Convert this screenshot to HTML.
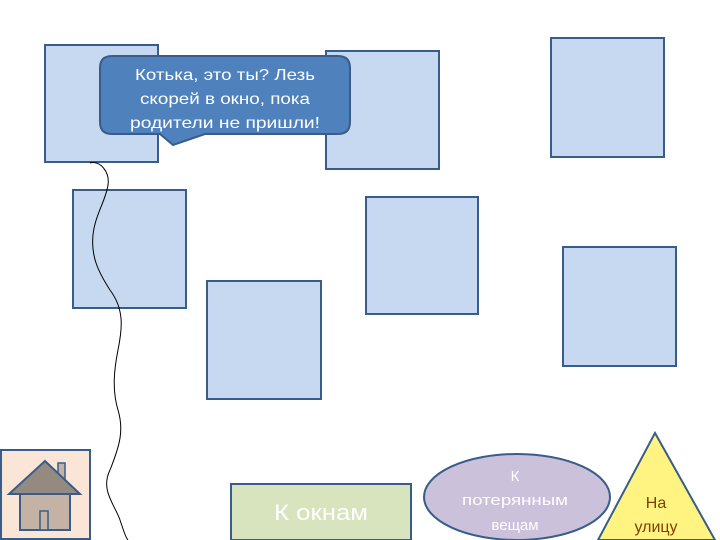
<!DOCTYPE html>
<html><head><meta charset="utf-8"><style>body{margin:0;background:#fff}svg{display:block}</style></head><body>
<svg width="720" height="540" viewBox="0 0 720 540" xmlns="http://www.w3.org/2000/svg" font-family="'Liberation Sans','Noto Sans CJK SC',sans-serif">
<g fill="#c6d9f1" stroke="#385d8a" stroke-width="2">
<rect x="45" y="45" width="113" height="117"/>
<rect x="326" y="51" width="113" height="118"/>
<rect x="551" y="38" width="113" height="119"/>
<rect x="73" y="190" width="113" height="118"/>
<rect x="366" y="197" width="112" height="117"/>
<rect x="207" y="281" width="114" height="118"/>
<rect x="563" y="247" width="113" height="119"/>
</g>
<path d="M90,163 C100,160 110,172 108,185 C106,200 95,215 93,235 C91,255 97,270 110,290 C125,310 122,330 118,350 C114,370 112,390 118,410 C124,430 120,445 110,470 C100,490 115,505 120,520 C124,532 126,538 128,540" fill="none" stroke="#000" stroke-width="1"/>
<path d="M112,56 H338 Q350,56 350,68 V122 Q350,134 338,134 H205 L173,145 L160,134 H112 Q100,134 100,122 V68 Q100,56 112,56 Z" fill="#4f81bd" stroke="#385d8a" stroke-width="2"/>
<g fill="#fff" font-size="16" text-anchor="middle">
<text x="225" y="80" textLength="180" lengthAdjust="spacingAndGlyphs">Котька, это ты? Лезь</text>
<text x="225" y="104" textLength="170" lengthAdjust="spacingAndGlyphs">скорей в окно, пока</text>
<text x="225" y="128" textLength="190" lengthAdjust="spacingAndGlyphs">родители не пришли!</text>
</g>
<rect x="1" y="450" width="89" height="89" fill="#fbe5d6" stroke="#385d8a" stroke-width="2"/>
<rect x="58" y="463" width="7" height="18" fill="#c4b2a5" stroke="#385d8a" stroke-width="1.5"/>
<rect x="20" y="493" width="50" height="37" fill="#c4b2a5" stroke="#385d8a" stroke-width="2"/>
<rect x="40" y="511" width="8" height="19" fill="#c4b2a5" stroke="#385d8a" stroke-width="1.5"/>
<polygon points="45,461 9,494 80,494" fill="#948a7f" stroke="#385d8a" stroke-width="2"/>
<rect x="231" y="484" width="180" height="56" fill="#d7e4bd" stroke="#385d8a" stroke-width="2"/>
<text x="321" y="520" fill="#fff" font-size="22" text-anchor="middle" textLength="94" lengthAdjust="spacingAndGlyphs">К окнам</text>
<ellipse cx="517" cy="497" rx="93" ry="43" fill="#ccc1da" stroke="#385d8a" stroke-width="2"/>
<g fill="#fff" font-size="15" text-anchor="middle">
<text x="515" y="481">К</text>
<text x="515" y="505" textLength="106" lengthAdjust="spacingAndGlyphs">потерянным</text>
<text x="515" y="530">вещам</text>
</g>
<polygon points="655,433 598,540 715,540" fill="#fff382" stroke="#385d8a" stroke-width="2"/>
<g fill="#7f3f00" font-size="16" text-anchor="middle">
<text x="656" y="508">На</text>
<text x="656" y="532">улицу</text>
</g>
</svg>
</body></html>
